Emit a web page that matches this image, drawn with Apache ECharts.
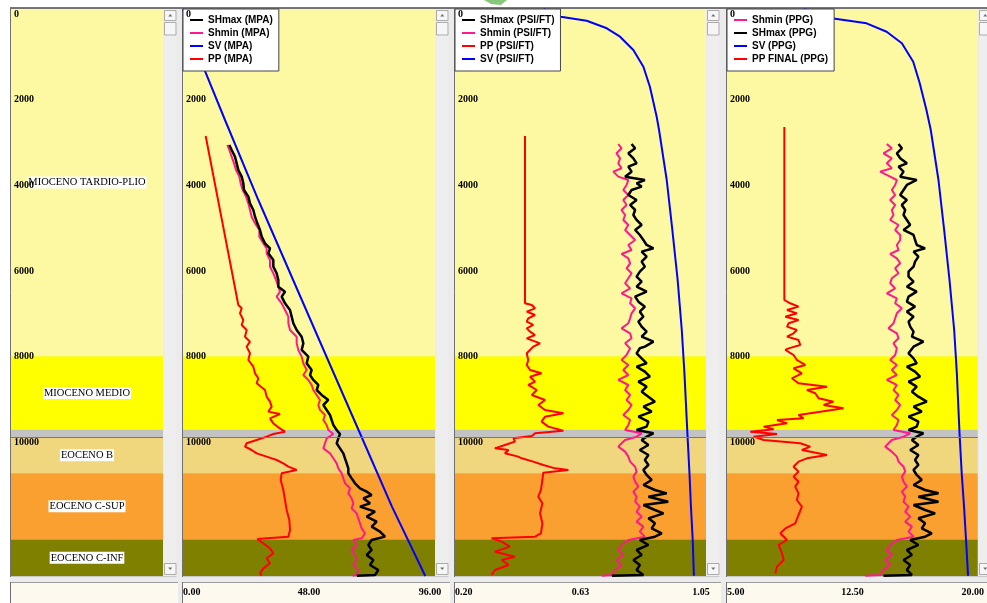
<!DOCTYPE html>
<html><head><meta charset="utf-8">
<script src="https://cdn.jsdelivr.net/npm/echarts@6/dist/echarts.min.js"></script>
<style>html,body{margin:0;padding:0;background:#fff;}#c{width:987px;height:603px;}</style>
</head><body><div id="c"></div>
<script>
// ---------------- DATA ----------------
const depthTicks = [0, 2000, 4000, 6000, 8000, 10000, 12000];
const depthRange = [0, 13230];

const formNames = ['MIOCENO TARDIO-PLIO', 'MIOCENO MEDIO', '', 'EOCENO B', 'EOCENO C-SUP', 'EOCENO C-INF'];
const formTops  = [0, 8100, 9820, 9990, 10830, 12380];
const formBases = [8100, 9820, 9990, 10830, 12380, 13230];
const boundaryDepths = [9990];

const xTicksMPA = [0, 48, 96];
const xTicksPSIFT = [0.2, 0.625, 1.05];
const xTicksPPG = [5, 12.5, 20];

const legendMPA = ['SHmax (MPA)', 'Shmin (MPA)', 'SV (MPA)', 'PP (MPA)'];
const legendPSIFT = ['SHmax (PSI/FT)', 'Shmin (PSI/FT)', 'PP (PSI/FT)', 'SV (PSI/FT)'];
const legendPPG = ['Shmin (PPG)', 'SHmax (PPG)', 'SV (PPG)', 'PP FINAL (PPG)'];

// [depth ft, value]
const shmaxMPA = [[3173,17.65],[3290,18.54],[3446,19.81],[3601,20.44],[3757,21.08],[3912,22.35],[4068,22.98],[4223,23.24],[4379,24.89],[4535,25.52],[4690,26.79],[4846,27.43],[5001,28.32],[5157,29.33],[5312,29.97],[5468,31.24],[5585,33.14],[5701,32.51],[5857,34.41],[6012,34.41],[6168,35.68],[6323,36.32],[6479,36.32],[6596,38.86],[6712,37.59],[6868,38.86],[7023,40.76],[7179,41.40],[7334,42.03],[7490,43.30],[7646,45.20],[7801,45.84],[7956,45.20],[8112,47.74],[8267,47.11],[8423,49.01],[8540,48.38],[8656,49.65],[8773,51.55],[8890,50.92],[9006,52.82],[9123,55.36],[9240,53.46],[9356,54.73],[9473,56.00],[9590,56.63],[9706,57.27],[9823,58.54],[9916,59.81],[10017,59.17],[10134,58.54],[10251,59.81],[10368,61.08],[10484,61.71],[10601,62.35],[10718,62.98],[10834,62.98],[10951,64.25],[11067,65.52],[11184,67.43],[11262,69.97],[11340,71.87],[11418,68.70],[11534,71.24],[11612,67.43],[11729,73.14],[11845,69.97],[11962,73.78],[12079,71.87],[12195,75.05],[12312,76.95],[12390,71.87],[12506,70.60],[12623,71.87],[12740,69.97],[12856,72.51],[12973,71.24],[13090,74.41],[13206,73.14],[13225,66.2]];
const shminMPA = [[3173,16.89],[3290,17.65],[3446,18.54],[3601,19.43],[3757,20.19],[3912,21.46],[4068,21.97],[4223,22.73],[4379,24.00],[4535,24.89],[4690,25.52],[4846,26.16],[5001,27.43],[5157,29.08],[5312,29.08],[5468,30.60],[5585,31.87],[5701,31.87],[5857,33.14],[6012,33.14],[6168,34.41],[6323,35.43],[6479,36.32],[6596,36.95],[6712,35.68],[6868,37.59],[7023,38.86],[7179,40.13],[7334,40.13],[7490,40.76],[7646,43.30],[7801,43.30],[7956,43.94],[8112,45.20],[8267,45.84],[8423,47.11],[8540,45.84],[8656,47.74],[8773,49.01],[8890,49.65],[9006,50.92],[9123,52.19],[9240,51.55],[9356,52.19],[9473,54.09],[9590,53.46],[9706,54.73],[9823,55.36],[9916,57.27],[10017,54.73],[10134,54.09],[10251,53.46],[10368,56.00],[10484,57.27],[10601,58.54],[10718,59.17],[10834,60.44],[10951,61.08],[11067,61.71],[11184,63.62],[11301,62.98],[11418,64.25],[11534,64.89],[11651,64.25],[11768,66.16],[11884,66.79],[12001,67.43],[12118,68.06],[12234,69.33],[12351,68.06],[12390,64.89],[12506,66.16],[12623,64.25],[12740,65.52],[12856,66.16],[12973,64.89],[13090,66.79],[13206,66.16],[13225,64.6]];
const svMPA = [[0,0],[1447,8.4],[2590,16.0],[4457,28.7],[7723,51.9],[8383,56.6],[9940,67.7],[11612,79.6],[13230,92.3]];
const ppMPA = [[2963,8.64],[6907,21.08],[6984,22.35],[7101,21.71],[7257,22.98],[7373,22.35],[7490,24.25],[7646,23.62],[7762,25.52],[7879,24.25],[8034,25.52],[8190,24.89],[8345,26.79],[8501,27.43],[8617,28.70],[8734,28.06],[8890,31.24],[9045,31.87],[9162,33.14],[9279,33.78],[9395,32.51],[9450,36.95],[9551,33.14],[9668,34.41],[9761,36.32],[9862,38.86],[9916,34.41],[9979,31.87],[10056,28.06],[10134,24.25],[10212,23.62],[10290,26.16],[10368,28.06],[10445,31.87],[10523,35.68],[10601,38.22],[10679,40.13],[10756,43.30],[10834,37.59],[10990,37.21],[11223,38.22],[11457,38.86],[11690,39.49],[11923,40.51],[12156,40.76],[12312,40.13],[12366,28.32],[12468,30.60],[12584,33.14],[12701,34.41],[12817,31.87],[12934,33.14],[13051,30.60],[13168,29.33],[13220,29.97]];

const shmaxPSIFT = [[3150,0.798],[3251,0.810],[3367,0.787],[3484,0.804],[3601,0.815],[3679,0.787],[3795,0.798],[3912,0.776],[3990,0.843],[4067,0.815],[4145,0.832],[4223,0.798],[4340,0.787],[4456,0.815],[4573,0.793],[4690,0.810],[4806,0.804],[4923,0.815],[5040,0.832],[5156,0.810],[5273,0.826],[5390,0.838],[5506,0.849],[5584,0.872],[5662,0.832],[5779,0.849],[5895,0.832],[6012,0.843],[6129,0.826],[6245,0.815],[6362,0.832],[6479,0.815],[6595,0.849],[6712,0.810],[6829,0.821],[6945,0.843],[7062,0.826],[7179,0.838],[7295,0.821],[7412,0.832],[7529,0.849],[7645,0.832],[7762,0.872],[7879,0.843],[7917,0.826],[8034,0.815],[8151,0.832],[8267,0.849],[8345,0.815],[8462,0.843],[8579,0.860],[8695,0.821],[8812,0.849],[8929,0.832],[9045,0.855],[9162,0.877],[9279,0.838],[9395,0.866],[9512,0.821],[9629,0.855],[9745,0.849],[9823,0.815],[9901,0.872],[9979,0.849],[10056,0.832],[10173,0.855],[10290,0.826],[10406,0.855],[10523,0.843],[10640,0.855],[10756,0.838],[10873,0.849],[10990,0.866],[11106,0.838],[11223,0.877],[11301,0.917],[11379,0.855],[11496,0.922],[11573,0.838],[11690,0.877],[11768,0.906],[11884,0.855],[12001,0.877],[12118,0.866],[12234,0.900],[12312,0.877],[12390,0.826],[12506,0.855],[12623,0.815],[12740,0.832],[12856,0.804],[12973,0.826],[13090,0.815],[13206,0.838],[13225,0.731]];
const shminPSIFT = [[3150,0.753],[3251,0.764],[3367,0.747],[3484,0.759],[3601,0.753],[3717,0.764],[3795,0.736],[3912,0.753],[3990,0.787],[4106,0.781],[4223,0.770],[4340,0.787],[4456,0.770],[4573,0.781],[4690,0.764],[4806,0.776],[4923,0.770],[5040,0.787],[5156,0.776],[5273,0.793],[5390,0.810],[5506,0.787],[5623,0.798],[5716,0.764],[5818,0.787],[5934,0.793],[6051,0.781],[6167,0.798],[6284,0.787],[6401,0.776],[6518,0.793],[6634,0.764],[6751,0.798],[6867,0.793],[6984,0.810],[7101,0.798],[7217,0.793],[7334,0.787],[7451,0.764],[7567,0.793],[7684,0.798],[7801,0.776],[7918,0.793],[7956,0.793],[8073,0.781],[8190,0.764],[8306,0.787],[8423,0.770],[8540,0.787],[8656,0.753],[8773,0.787],[8890,0.776],[9006,0.793],[9123,0.781],[9240,0.798],[9356,0.787],[9473,0.770],[9590,0.793],[9706,0.787],[9823,0.776],[9901,0.832],[9979,0.815],[10056,0.776],[10134,0.764],[10212,0.753],[10329,0.776],[10445,0.787],[10562,0.793],[10679,0.810],[10795,0.815],[10912,0.804],[11029,0.810],[11145,0.821],[11262,0.804],[11379,0.815],[11496,0.810],[11612,0.826],[11729,0.815],[11845,0.832],[11962,0.815],[12079,0.838],[12195,0.826],[12312,0.843],[12390,0.787],[12506,0.764],[12623,0.753],[12740,0.770],[12856,0.747],[12973,0.764],[13090,0.742],[13206,0.731],[13225,0.697]];
const svPSIFT = [[0,0.50],[180,0.558],[273,0.646],[450,0.714],[646,0.759],[957,0.804],[1346,0.838],[1813,0.860],[2513,0.883],[2823,0.891],[3990,0.917],[5156,0.936],[6323,0.954],[7490,0.968],[8501,0.977],[9901,0.987],[10834,0.994],[11612,0.999],[12390,1.005],[13225,1.009]];
const ppPSIFT = [[2963,0.437],[6518,0.437],[6540,0.443],[6570,0.437],[6867,0.437],[6906,0.460],[6984,0.471],[7062,0.443],[7140,0.471],[7217,0.448],[7295,0.443],[7373,0.465],[7451,0.443],[7529,0.454],[7606,0.471],[7684,0.443],[7801,0.488],[7879,0.465],[8034,0.443],[8190,0.448],[8306,0.443],[8423,0.454],[8501,0.493],[8579,0.454],[8695,0.471],[8773,0.448],[8890,0.477],[9006,0.460],[9123,0.505],[9240,0.482],[9356,0.505],[9434,0.567],[9512,0.505],[9629,0.493],[9745,0.516],[9839,0.567],[9901,0.471],[9963,0.460],[10017,0.398],[10095,0.403],[10173,0.369],[10251,0.335],[10290,0.381],[10368,0.369],[10445,0.414],[10484,0.426],[10562,0.465],[10640,0.499],[10718,0.539],[10756,0.584],[10819,0.499],[10990,0.496],[11223,0.491],[11379,0.482],[11534,0.496],[11767,0.488],[12001,0.496],[12234,0.491],[12312,0.471],[12351,0.324],[12429,0.358],[12545,0.386],[12662,0.335],[12779,0.403],[12856,0.358],[12973,0.381],[13090,0.335],[13206,0.324]];

const shminPPG = [[3150,14.56],[3251,14.86],[3367,14.36],[3484,14.86],[3601,14.56],[3717,14.86],[3795,14.16],[3912,14.76],[3990,15.16],[4106,15.06],[4223,14.86],[4340,15.06],[4456,14.76],[4573,15.06],[4690,14.86],[4806,14.96],[4923,14.76],[5040,15.26],[5156,15.06],[5273,15.36],[5390,15.36],[5506,15.16],[5623,15.26],[5716,14.76],[5818,15.16],[5934,15.36],[6051,15.06],[6167,15.26],[6284,14.86],[6401,14.76],[6518,15.06],[6634,14.56],[6751,15.16],[6867,15.06],[6984,15.46],[7101,15.16],[7217,15.06],[7334,14.96],[7451,14.66],[7567,15.16],[7684,15.26],[7801,14.96],[7918,15.16],[7956,15.26],[8073,15.06],[8190,14.76],[8306,15.16],[8423,14.86],[8540,15.16],[8656,14.56],[8773,15.16],[8890,14.96],[9006,15.26],[9123,15.06],[9240,15.36],[9356,15.16],[9473,14.86],[9590,15.26],[9706,15.16],[9823,14.96],[9901,15.96],[9979,15.56],[10056,14.86],[10134,14.66],[10212,14.46],[10329,14.86],[10445,15.16],[10562,15.26],[10679,15.56],[10795,15.66],[10912,15.46],[11029,15.56],[11145,15.76],[11262,15.46],[11379,15.66],[11496,15.56],[11612,15.86],[11729,15.66],[11845,15.96],[11962,15.66],[12079,16.06],[12195,15.86],[12312,16.16],[12390,15.16],[12506,14.76],[12623,14.56],[12740,14.86],[12856,14.46],[12973,14.76],[13090,14.36],[13206,14.16],[13225,13.27]];
const shmaxPPG = [[3150,15.26],[3251,15.46],[3367,15.16],[3484,15.36],[3601,15.76],[3679,15.26],[3795,15.56],[3912,15.36],[3990,16.35],[4106,15.76],[4223,15.56],[4340,15.36],[4456,15.76],[4573,15.46],[4690,15.66],[4806,15.56],[4923,15.76],[5040,15.96],[5156,15.56],[5273,16.16],[5390,16.25],[5506,16.35],[5584,16.85],[5662,16.16],[5779,16.45],[5895,16.25],[6012,16.16],[6129,15.86],[6245,15.86],[6362,16.16],[6479,15.76],[6595,16.35],[6712,15.86],[6829,15.76],[6945,16.25],[7062,15.76],[7179,16.16],[7295,15.86],[7412,15.96],[7529,16.16],[7645,16.06],[7762,16.75],[7879,16.16],[7917,16.06],[8034,15.86],[8151,16.16],[8267,16.35],[8345,15.76],[8462,16.25],[8579,16.55],[8695,15.86],[8812,16.35],[8929,16.06],[9045,16.45],[9162,16.95],[9279,16.16],[9395,16.65],[9512,15.86],[9629,16.45],[9745,16.35],[9823,15.86],[9901,16.75],[9979,16.35],[10056,16.06],[10173,16.45],[10290,15.96],[10406,16.45],[10523,16.25],[10640,16.45],[10756,16.16],[10873,16.35],[10990,16.65],[11106,16.16],[11223,16.85],[11301,17.65],[11379,16.45],[11496,17.65],[11573,16.16],[11690,16.85],[11768,17.45],[11884,16.45],[12001,16.85],[12118,16.65],[12234,17.25],[12312,16.85],[12390,15.96],[12506,16.45],[12623,15.76],[12740,16.06],[12856,15.56],[12973,15.96],[13090,15.76],[13206,16.06],[13225,14.36]];
const svPPG = [[0,9.6],[217,11.26],[334,13.35],[530,14.55],[800,15.46],[1230,16.14],[1734,16.53],[2357,16.93],[2823,17.19],[3990,17.65],[5156,17.99],[6323,18.31],[7490,18.59],[8501,18.75],[9901,18.91],[10834,19.04],[11612,19.18],[12390,19.30],[13225,19.42]];
const ppFinalPPG = [[2753,8.43],[6790,8.43],[6867,8.78],[6945,9.28],[7023,8.59],[7101,9.18],[7179,8.49],[7256,9.28],[7334,8.69],[7412,8.59],[7490,9.18],[7567,8.98],[7645,8.59],[7723,9.28],[7840,9.38],[7918,8.69],[7956,8.49],[8073,8.98],[8190,9.18],[8306,9.68],[8384,8.98],[8501,9.48],[8617,8.88],[8734,9.28],[8812,10.98],[8890,9.78],[8967,10.28],[9084,10.48],[9162,11.37],[9240,10.78],[9317,11.97],[9395,10.58],[9473,9.28],[9551,9.58],[9590,7.99],[9668,8.59],[9745,7.19],[9807,7.79],[9862,6.39],[9916,7.99],[9979,6.59],[10056,7.19],[10134,9.38],[10212,9.98],[10290,9.48],[10406,10.98],[10484,9.78],[10562,9.28],[10679,8.98],[10795,9.28],[10912,8.98],[11029,9.28],[11145,9.08],[11301,9.28],[11457,9.18],[11612,9.48],[11806,9.28],[12001,9.08],[12118,8.49],[12234,8.19],[12390,8.59],[12506,8.09],[12701,8.29],[12856,8.39],[13012,7.99],[13168,7.89]];

// ---------------- STYLE / LAYOUT ----------------
const formColors = ['#FDF9A2', '#FFFF00', '#C3C3C3', '#F0D67C', '#F9A030', '#808000'];
const C = { black: '#000000', pink: '#FF1A8C', red: '#FF0000', blue: '#0000FF' };
const panels = [{x: 11, w: 152}, {x: 183, w: 252}, {x: 455, w: 251}, {x: 727, w: 251}];
const TOP = 9, HGT = 567, STRIP_TOP = 582;
const serif = 'Liberation Serif';

function mkY(gi) {
  return {
    gridIndex: gi, type: 'value', inverse: true, min: depthRange[0], max: depthRange[1], interval: 2000, z: 10,
    axisLine: {show: false}, axisTick: {show: false}, splitLine: {show: false},
    axisLabel: {inside: true, customValues: depthTicks, showMaxLabel: false, margin: 3, verticalAlign: 'top',
      formatter: v => String(v),
      fontFamily: serif, fontWeight: 'bold', fontSize: 10, color: '#000'}
  };
}
function mkX(gi, t) {
  const last = t[t.length - 1];
  return {
    gridIndex: gi, type: 'value', min: t[0], max: last, position: 'bottom', offset: 6,
    axisLine: {show: false}, splitLine: {show: false},
    axisTick: {show: true, customValues: t.slice(1, -1), length: 4, lineStyle: {color: '#333', width: 1}},
    axisLabel: {show: true, customValues: t, margin: 5, alignMinLabel: 'left',
      fontFamily: serif, fontWeight: 'bold', fontSize: 10, color: '#000',
      formatter: v => (Math.abs(v - last) < 1e-9 ? '{r|' + v.toFixed(2) + '}' : v.toFixed(2)),
      rich: {r: {padding: [0, 10, 0, 0], fontFamily: serif, fontWeight: 'bold', fontSize: 10, color: '#000'}}}
  };
}
function bgSeries(gi, withLabels) {
  return {
    type: 'line', xAxisIndex: gi, yAxisIndex: gi, data: [], silent: true, z: 1, animation: false,
    markArea: {
      silent: true, animation: false,
      data: formNames.map((n, i) => [
        {name: n, yAxis: formTops[i], itemStyle: {color: formColors[i], opacity: 1, borderWidth: 0},
         label: {show: withLabels && n !== '', position: 'inside', color: '#000', fontFamily: serif, fontSize: 10.5,
                 backgroundColor: '#fff', padding: [1, 1, 0, 1]}},
        {yAxis: formBases[i]}
      ])
    },
    markLine: {
      silent: true, animation: false, symbol: ['none', 'none'], label: {show: false},
      lineStyle: {color: '#E0502A', width: 1, type: 'solid'},
      data: boundaryDepths.map(d => ({yAxis: d}))
    }
  };
}
function line(name, gi, data, color, w) {
  return {
    name, type: 'line', xAxisIndex: gi, yAxisIndex: gi, data: data.map(d => [d[1], d[0]]),
    showSymbol: false, symbol: 'none', color, lineStyle: {color, width: w}, z: 3, animation: false, silent: true
  };
}
const legendCommon = {
  orient: 'vertical', top: TOP, backgroundColor: '#fff', borderColor: '#444', borderWidth: 1, borderRadius: 0,
  padding: [5, 6, 6, 7], itemGap: 1, itemWidth: 13, itemHeight: 2, icon: 'rect', selectedMode: false, z: 4,
  textStyle: {fontFamily: 'Liberation Sans', fontWeight: 'bold', fontSize: 10, color: '#000', lineHeight: 12}
};

// chrome graphics
const g = [];
g.push({type: 'rect', shape: {x: 10, y: 8, width: 977, height: 595}, style: {fill: '#EBEBEB'}});
g.push({type: 'polygon', shape: {points: [[484, 0], [507, 0], [501, 5], [491, 4]]}, style: {fill: '#86C97A'}});
g.push({type: 'line', shape: {x1: 10, y1: 8, x2: 987, y2: 8}, style: {stroke: '#4A4A4A', lineWidth: 1.5}});
panels.forEach((p, i) => {
  const sx = p.x + p.w + 1;
  g.push({type: 'rect', shape: {x: sx, y: TOP, width: 12.5, height: HGT}, style: {fill: '#EEEEEE'}});
  g.push({type: 'rect', shape: {x: sx + 0.5, y: 10.5, width: 11.5, height: 10}, style: {fill: '#F6F6F6', stroke: '#ABABAB', lineWidth: 1}});
  g.push({type: 'polygon', shape: {points: [[sx + 6.25, 14], [sx + 4.25, 16.5], [sx + 8.25, 16.5]]}, style: {fill: '#707070'}});
  g.push({type: 'rect', shape: {x: sx + 0.5, y: 22.5, width: 11.5, height: 12.5}, style: {fill: '#F6F6F6', stroke: '#ABABAB', lineWidth: 1}});
  g.push({type: 'rect', shape: {x: sx + 0.5, y: 563.5, width: 11.5, height: 11}, style: {fill: '#F6F6F6', stroke: '#ABABAB', lineWidth: 1}});
  g.push({type: 'polygon', shape: {points: [[sx + 4.25, 567.5], [sx + 8.25, 567.5], [sx + 6.25, 570]]}, style: {fill: '#707070'}});
  g.push({type: 'line', shape: {x1: p.x - 0.5, y1: 8, x2: p.x - 0.5, y2: 577}, style: {stroke: '#707070', lineWidth: 1}});
  g.push({type: 'line', shape: {x1: p.x, y1: 576.5, x2: sx + 12.5, y2: 576.5}, style: {stroke: '#C8C8C8', lineWidth: 1}});
  const stripX = p.x - 1, stripR = sx + 14;
  g.push({type: 'rect', shape: {x: stripX, y: STRIP_TOP, width: stripR - stripX, height: 21}, style: {fill: '#FDF9EF'}});
  g.push({type: 'line', shape: {x1: stripX, y1: STRIP_TOP + 0.5, x2: stripR, y2: STRIP_TOP + 0.5}, style: {stroke: '#9C9C9C', lineWidth: 1}});
  g.push({type: 'line', shape: {x1: stripX + 0.5, y1: STRIP_TOP, x2: stripX + 0.5, y2: 603}, style: {stroke: '#707070', lineWidth: 1}});
});

const option = {
  animation: false,
  backgroundColor: '#FFFFFF',
  graphic: {elements: g},
  grid: panels.map(p => ({left: p.x, top: TOP, width: p.w, height: HGT, containLabel: false, show: false})),
  xAxis: [
    {gridIndex: 0, type: 'value', min: 0, max: 1, show: false},
    mkX(1, xTicksMPA), mkX(2, xTicksPSIFT), mkX(3, xTicksPPG)
  ],
  yAxis: [mkY(0), mkY(1), mkY(2), mkY(3)],
  legend: [
    Object.assign({}, legendCommon, {left: panels[1].x, data: legendMPA}),
    Object.assign({}, legendCommon, {left: panels[2].x, data: legendPSIFT}),
    Object.assign({}, legendCommon, {left: panels[3].x, data: legendPPG})
  ],
  series: [
    bgSeries(0, true), bgSeries(1, false), bgSeries(2, false), bgSeries(3, false),
    line(legendMPA[2], 1, svMPA, C.blue, 2),
    line(legendMPA[3], 1, ppMPA, C.red, 2),
    line(legendMPA[1], 1, shminMPA, C.pink, 2),
    line(legendMPA[0], 1, shmaxMPA, C.black, 2.5),
    line(legendPSIFT[3], 2, svPSIFT, C.blue, 2),
    line(legendPSIFT[2], 2, ppPSIFT, C.red, 2),
    line(legendPSIFT[1], 2, shminPSIFT, C.pink, 2),
    line(legendPSIFT[0], 2, shmaxPSIFT, C.black, 2.5),
    line(legendPPG[2], 3, svPPG, C.blue, 2),
    line(legendPPG[3], 3, ppFinalPPG, C.red, 2),
    line(legendPPG[0], 3, shminPPG, C.pink, 2),
    line(legendPPG[1], 3, shmaxPPG, C.black, 2.5)
  ]
};
const chart = echarts.init(document.getElementById('c'));
chart.setOption(option);
</script></body></html>
